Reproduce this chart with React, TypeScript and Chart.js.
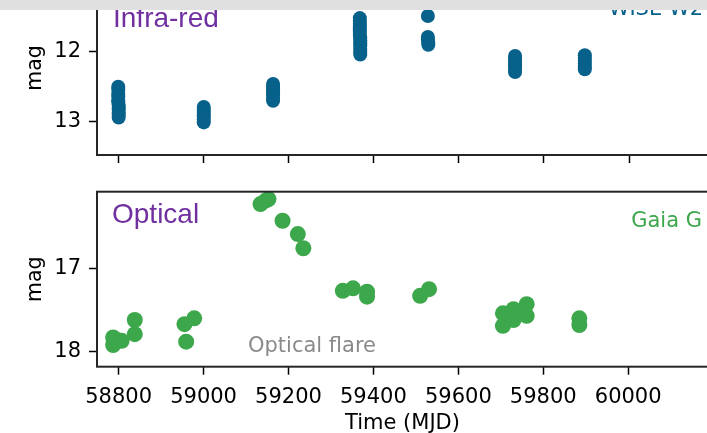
import React, { useEffect, useRef } from 'react';
import { Chart, registerables } from 'chart.js';

Chart.register(...registerables);

// Shared time axis (MJD)
const timeTicks = [58800, 59000, 59200, 59400, 59600, 59800, 60000];
const timeMin = 58749;
const timeMax = 60188;

// Infra-red panel (WISE W2)
const irTicks = [12, 13];
const irMin = 10.99;
const irMax = 13.476;
const wiseTime = [
  58799, 58799, 58799, 58799, 58799, 58799, 58800, 58800, 58800, 58800, 58800, 58800,
  59000, 59000, 59000, 59000, 59000, 59000, 59000,
  59163, 59163, 59163, 59163, 59163, 59163, 59163,
  59367, 59367, 59367, 59367, 59367, 59367, 59367, 59368, 59368, 59368, 59368, 59368, 59368, 59368,
  59527, 59527, 59527, 59528, 59528,
  59732, 59732, 59732, 59732, 59732, 59732, 59732,
  59896, 59896, 59896, 59896, 59896, 59896,
];
const wiseMag = [
  12.50, 12.54, 12.60, 12.64, 12.69, 12.72, 12.76, 12.80, 12.83, 12.87, 12.90, 12.94,
  12.79, 12.83, 12.86, 12.90, 12.93, 12.97, 13.01,
  12.46, 12.50, 12.54, 12.58, 12.62, 12.66, 12.70,
  11.52, 11.56, 11.60, 11.64, 11.68, 11.72, 11.76, 11.80, 11.84, 11.88, 11.92, 11.96, 12.00, 12.04,
  11.49, 11.79, 11.83, 11.87, 11.90,
  12.06, 12.10, 12.14, 12.18, 12.22, 12.26, 12.29,
  12.05, 12.09, 12.13, 12.17, 12.21, 12.25,
];

// Optical panel (Gaia G)
const optTicks = [17, 18];
const optMin = 16.082;
const optMax = 18.18;
const gaiaTime = [
  58787, 58787, 58796, 58807, 58838, 58838,
  58955, 58959, 58978,
  59134, 59146, 59153, 59186, 59222, 59235,
  59328, 59352, 59385, 59385,
  59510, 59531,
  59705, 59705, 59730, 59730, 59761, 59761,
  59885, 59885,
];
const gaiaMag = [
  17.83, 17.92, 17.86, 17.87, 17.62, 17.79,
  17.67, 17.88, 17.60,
  16.23, 16.19, 16.17, 16.43, 16.59, 16.76,
  17.27, 17.24, 17.28, 17.34,
  17.33, 17.25,
  17.54, 17.69, 17.49, 17.62, 17.43, 17.57,
  17.60, 17.68,
];

const BLUE = '#07618A';
const GREEN = '#3DA74C';
const PURPLE = '#7030A0';
const SPINE = '#262626';
const SANS = "'DejaVu Sans'";
const ARIAL = "'Liberation Sans'";
const TEXT_SIZE = 21;
const TICK_FONT = { family: SANS, size: TEXT_SIZE };

type Note = { text: string; font: string; color: string; dx: number; dy: number; align: CanvasTextAlign; fromRight?: boolean };

function framePlugin(notes: Note[]) {
  return {
    id: 'frameAndNotes',
    afterDatasetsDraw(chart: any) {
      const { ctx, chartArea: a } = chart;
      ctx.save();
      ctx.strokeStyle = SPINE;
      ctx.lineWidth = 2;
      ctx.strokeRect(a.left, a.top, a.right - a.left, a.bottom - a.top);
      for (const n of notes) {
        ctx.font = n.font;
        ctx.fillStyle = n.color;
        ctx.textAlign = n.align;
        ctx.textBaseline = 'alphabetic';
        const x = n.fromRight ? a.right - n.dx : a.left + n.dx;
        ctx.fillText(n.text, x, a.top + n.dy);
      }
      ctx.restore();
    },
  };
}

function setTicks(values: number[]) {
  return (s: any) => {
    s.ticks = values.map((v) => ({ value: v }));
  };
}

function makeConfig(opts: {
  xs: number[]; ys: number[]; color: string; radius: number;
  yMin: number; yMax: number; yTicks: number[];
  padTop: number; xHeight: number; showXLabels: boolean; notes: Note[];
}): any {
  return {
    type: 'scatter',
    data: {
      datasets: [{
        data: opts.xs.map((x, i) => ({ x, y: opts.ys[i] })),
        backgroundColor: opts.color,
        borderWidth: 0,
        pointRadius: opts.radius,
        pointHoverRadius: opts.radius,
      }],
    },
    options: {
      animation: false,
      responsive: false,
      devicePixelRatio: 1,
      events: [],
      layout: { padding: { top: opts.padTop, right: 3, left: 0, bottom: 0 } },
      plugins: { legend: { display: false }, tooltip: { enabled: false } },
      scales: {
        x: {
          type: 'linear',
          min: timeMin,
          max: timeMax,
          afterBuildTicks: setTicks(timeTicks),
          afterFit: (s: any) => { s.height = opts.xHeight; },
          grid: { drawOnChartArea: false, drawTicks: true, tickLength: 8, tickColor: '#000', tickWidth: 1.5 },
          border: { display: false },
          ticks: {
            display: opts.showXLabels,
            color: '#000',
            font: TICK_FONT,
            padding: 10,
            maxRotation: 0,
            autoSkip: false,
            callback: (v: any) => String(v),
          },
          title: {
            display: opts.showXLabels,
            text: 'Time (MJD)',
            color: '#000',
            font: TICK_FONT,
            padding: { top: 0, bottom: 0 },
          },
        },
        y: {
          type: 'linear',
          reverse: true,
          min: opts.yMin,
          max: opts.yMax,
          afterBuildTicks: setTicks(opts.yTicks),
          afterFit: (s: any) => { s.width = 97; },
          grid: { drawOnChartArea: false, drawTicks: true, tickLength: 8, tickColor: '#000', tickWidth: 1.5 },
          border: { display: false },
          ticks: {
            color: '#000',
            font: TICK_FONT,
            padding: 8,
            autoSkip: false,
            callback: (v: any) => String(v),
          },
          title: {
            display: true,
            text: 'mag',
            color: '#000',
            font: { family: SANS, size: 20.5 },
            padding: { top: 23, bottom: 0 },
          },
        },
      },
    },
    plugins: [framePlugin(opts.notes)],
  };
}

export default function App() {
  const topRef = useRef<HTMLCanvasElement>(null);
  const botRef = useRef<HTMLCanvasElement>(null);

  useEffect(() => {
    const top = new Chart(topRef.current as HTMLCanvasElement, makeConfig({
      xs: wiseTime, ys: wiseMag, color: BLUE, radius: 7,
      yMin: irMin, yMax: irMax, yTicks: irTicks,
      padTop: 21, xHeight: 45, showXLabels: false,
      notes: [
        { text: 'Infra-red', font: `28px ${ARIAL}`, color: PURPLE, dx: 16, dy: 46, align: 'left' },
        { text: 'WISE W2', font: `${TEXT_SIZE}px ${SANS}`, color: BLUE, dx: 6, dy: 34, align: 'right', fromRight: true },
      ],
    }));
    const bottom = new Chart(botRef.current as HTMLCanvasElement, makeConfig({
      xs: gaiaTime, ys: gaiaMag, color: GREEN, radius: 8,
      yMin: optMin, yMax: optMax, yTicks: optTicks,
      padTop: 21.7, xHeight: 69.3, showXLabels: true,
      notes: [
        { text: 'Optical', font: `28px ${ARIAL}`, color: PURPLE, dx: 15, dy: 31.3, align: 'left' },
        { text: 'Gaia G', font: `${TEXT_SIZE}px ${SANS}`, color: GREEN, dx: 6, dy: 35.3, align: 'right', fromRight: true },
        { text: 'Optical flare', font: `${TEXT_SIZE}px ${SANS}`, color: '#8a8a8a', dx: 151, dy: 160.3, align: 'left' },
      ],
    }));
    return () => {
      top.destroy();
      bottom.destroy();
    };
  }, []);

  return (
    <div style={{ position: 'fixed', left: 0, top: 0, width: 707, height: 433, overflow: 'hidden', background: '#fff' }}>
      <canvas ref={topRef} width={716} height={240} style={{ position: 'absolute', left: 0, top: -40 }} />
      <canvas ref={botRef} width={716} height={266} style={{ position: 'absolute', left: 0, top: 170 }} />
      <div style={{ position: 'absolute', left: 0, top: 0, width: 707, height: 10, background: '#e0e0e0' }} />
    </div>
  );
}
